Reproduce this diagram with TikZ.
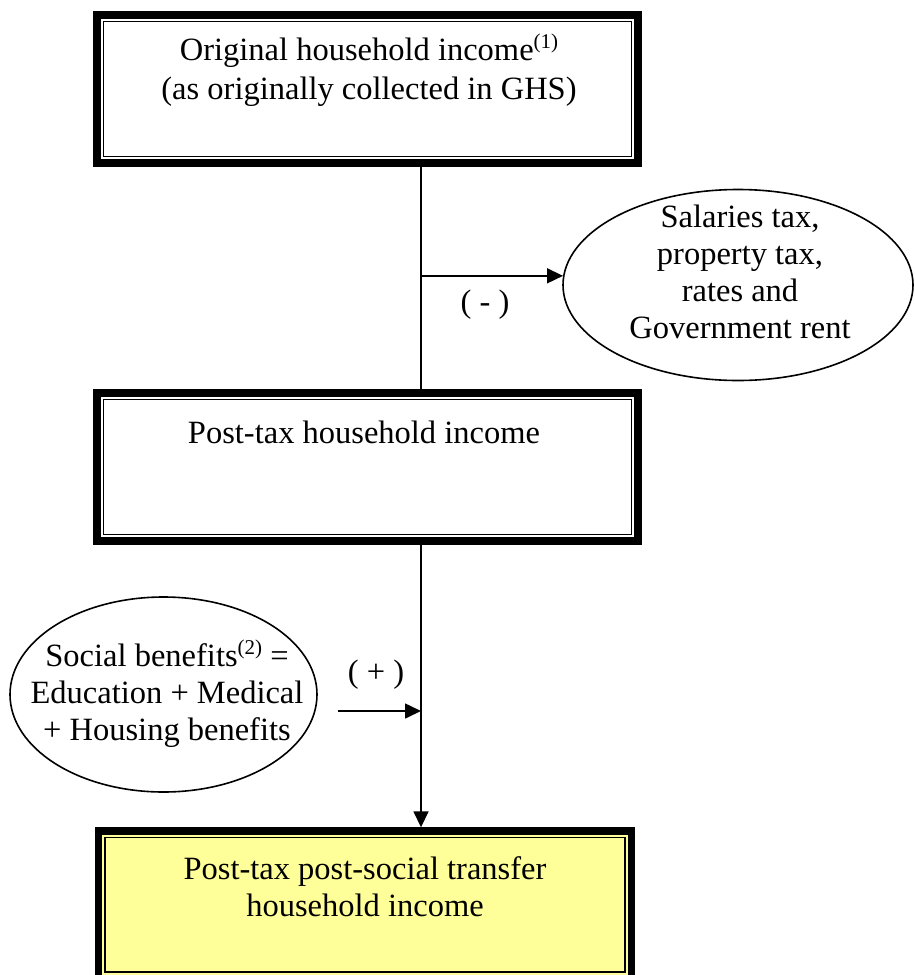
\documentclass[tikz,border=0pt]{standalone}
\usepackage{fontspec}
\setmainfont{Liberation Serif}
\usetikzlibrary{arrows.meta,shapes.geometric}
\definecolor{boxyellow}{HTML}{FFFF99}
\newcommand{\supnote}[1]{\raisebox{0.36em}{\fontsize{21}{21}\selectfont #1}}
\begin{document}
\begin{tikzpicture}[x=1pt,y=-1pt,
  frame/.style={draw=black, line width=7.5pt, rectangle, inner sep=0pt,
    minimum width=541pt, minimum height=148pt},
  innerframe/.style={draw=black, line width=1.3pt},
  txt/.style={font=\fontsize{32.5}{37}\selectfont, align=center, inner sep=0pt},
  oval/.style={draw=black, line width=1.6pt, ellipse, inner sep=0pt},
  conn/.style={draw=black, line width=1.6pt},
  arr/.style={conn, -{Triangle[length=16pt,width=15pt]}},
  lbl/.style={font=\fontsize{32.5}{37}\selectfont, inner sep=0pt}]
\path[use as bounding box, clip] (0,0) rectangle (914,975);

% boxes
\node[frame] (box1) at (367.5,89) {};
\draw[innerframe] ([shift={(10,10)}]box1.north west) rectangle ([shift={(-10,-10)}]box1.south east);
\node[txt, font=\fontsize{32.5}{39}\selectfont] (t1) at (369,70)
  {Original household income\supnote{(1)}\\(as originally collected in GHS)};

\node[frame] (box2) at (367.5,467) {};
\draw[innerframe] ([shift={(10,10)}]box2.north west) rectangle ([shift={(-10,-10)}]box2.south east);
\node[txt] (t2) at (364,432) {Post-tax household income};

\node[frame, fill=boxyellow, minimum width=532.6pt, minimum height=147.3pt] (box3) at (365,904.7) {};
\draw[innerframe] ([shift={(10,10)}]box3.north west) rectangle ([shift={(-10,-10)}]box3.south east);
\node[txt] (t3) at (365,887) {Post-tax post-social transfer\\household income};

% ellipses
\node[oval, minimum width=350pt, minimum height=191pt] (e1) at (738,285) {};
\node[txt] (te1) at (740,272) {Salaries tax,\\property tax,\\rates and\\Government rent};

\node[oval, minimum width=307pt, minimum height=195pt] (e2) at (163.5,694.5) {};
\node[txt] (te2) at (167,694) {Social benefits\supnote{(2)} =\\Education + Medical\\+ Housing benefits};

% connectors
\coordinate (spine) at (421,0);
\draw[conn] (box1.south -| spine) -- (box2.north -| spine);
\draw[arr] (e1.177 -| spine) -- (e1.177);
\node[lbl] (minus) at (485,305) {( - )};

\coordinate (a2) at (338,711);
\draw[arr] (a2) -- (a2 -| spine);
\node[lbl] (plus) at (376,675) {( + )};

\draw[arr] (box2.south -| spine) -- (box3.north -| spine);
\end{tikzpicture}
\end{document}
